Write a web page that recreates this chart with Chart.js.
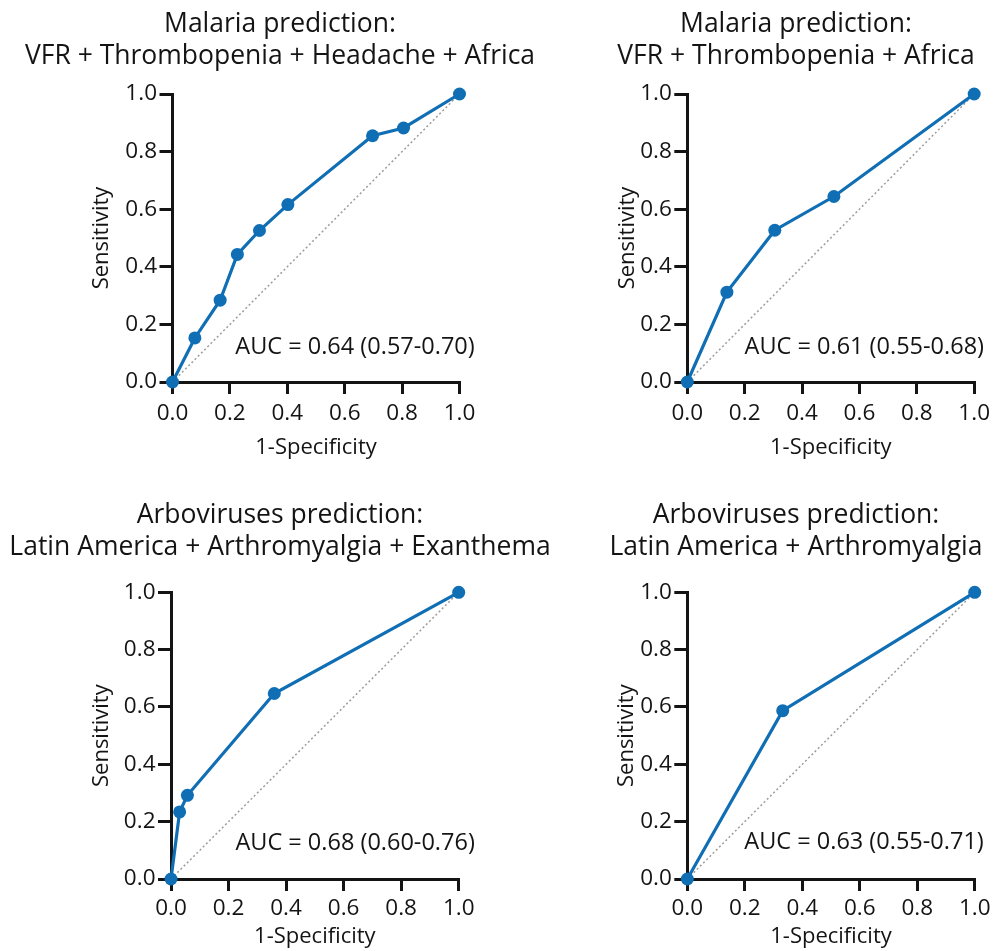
<!DOCTYPE html>
<html>
<head>
<meta charset="utf-8">
<script src="https://cdn.jsdelivr.net/npm/chart.js@4.4.1/dist/chart.umd.min.js"></script>
<style>
  body { margin: 0; background: #fff; }
  #wrap { position: relative; width: 996px; height: 951px; overflow: hidden; }
  canvas { position: absolute; }
</style>
</head>
<body>
<div id="wrap">
  <canvas id="c1"></canvas>
  <canvas id="c2"></canvas>
  <canvas id="c3"></canvas>
  <canvas id="c4"></canvas>
</div>
<script>
// ROC points (1-specificity, sensitivity)
var malariaFourX = [0, 0.078, 0.166, 0.226, 0.303, 0.402, 0.697, 0.805, 1];
var malariaFourY = [0, 0.153, 0.284, 0.443, 0.526, 0.616, 0.855, 0.882, 1];
var malariaThreeX = [0, 0.138, 0.305, 0.511, 1];
var malariaThreeY = [0, 0.312, 0.527, 0.644, 1];
var arboThreeX = [0, 0.030, 0.057, 0.359, 1];
var arboThreeY = [0, 0.234, 0.292, 0.647, 1];
var arboTwoX = [0, 0.332, 1];
var arboTwoY = [0, 0.587, 1];

var chanceX = [0, 1];
var chanceY = [0, 1];
var tickValues = [0, 0.2, 0.4, 0.6, 0.8, 1.0];

var panelTitles = [
    ["Malaria prediction:", "VFR + Thrombopenia + Headache + Africa"],
    ["Malaria prediction:", "VFR + Thrombopenia + Africa"],
    ["Arboviruses prediction:", "Latin America + Arthromyalgia + Exanthema"],
    ["Arboviruses prediction:", "Latin America + Arthromyalgia"]
];
var aucLabels = [
    "AUC = 0.64 (0.57-0.70)",
    "AUC = 0.61 (0.55-0.68)",
    "AUC = 0.68 (0.60-0.76)",
    "AUC = 0.63 (0.55-0.71)"
];

var BLUE = "#106eb4";
var INK = "#141414";
var FONT = "'Open Sans', sans-serif";

function toPoints(xs, ys) {
    return xs.map(function (v, i) { return { x: v, y: ys[i] }; });
}

// writes the AUC text at a place given in data units
var aucPlugin = {
    id: "aucText",
    afterDatasetsDraw: function (chart, args, opts) {
        var ctx = chart.ctx;
        ctx.save();
        ctx.font = "23.5px " + FONT;
        ctx.fillStyle = INK;
        ctx.textAlign = "center";
        ctx.textBaseline = "middle";
        ctx.fillText(opts.text, chart.scales.x.getPixelForValue(opts.x), chart.scales.y.getPixelForValue(opts.y));
        ctx.restore();
    }
};

function makePanel(id, xs, ys, idx, p) {
    var canvas = document.getElementById(id);
    canvas.width = p.w;
    canvas.height = p.h;
    canvas.style.left = p.left + "px";
    canvas.style.top = p.top + "px";

    return new Chart(canvas.getContext("2d"), {
        type: "scatter",
        data: {
            datasets: [{
                data: toPoints(xs, ys),
                showLine: true,
                borderColor: BLUE,
                backgroundColor: BLUE,
                borderWidth: 3.2,
                pointRadius: 6.5,
                pointBorderWidth: 0,
                clip: false
            }, {
                data: toPoints(chanceX, chanceY),
                showLine: true,
                borderColor: "#9c9c9c",
                borderWidth: 1.5,
                borderDash: [2, 2.5],
                pointRadius: 0
            }]
        },
        options: {
            responsive: false,
            animation: false,
            layout: { padding: 0 },
            plugins: {
                legend: { display: false },
                tooltip: { enabled: false },
                title: {
                    display: true,
                    text: panelTitles[idx],
                    color: INK,
                    font: { family: FONT, size: 26.5, weight: "normal", lineHeight: 31.5 / 26.5 },
                    padding: { top: p.titleTop, bottom: p.titleBottom }
                },
                aucText: { text: aucLabels[idx], x: p.aucX, y: p.aucY }
            },
            scales: {
                x: {
                    type: "linear",
                    min: 0,
                    max: 1,
                    afterBuildTicks: function (s) { s.ticks = tickValues.map(function (v) { return { value: v }; }); },
                    afterFit: function (s) { s.height = p.xHeight; },
                    border: { display: true, color: INK, width: 3 },
                    grid: { drawOnChartArea: false, drawTicks: true, tickLength: 12, lineWidth: 3, color: INK },
                    ticks: {
                        color: INK, padding: p.xTickPad, maxRotation: 0,
                        font: { family: FONT, size: 22.5 },
                        callback: function (v) { return Number(v).toFixed(1); }
                    },
                    title: {
                        display: true, text: "1-Specificity", color: INK,
                        font: { family: FONT, size: 22 },
                        padding: { top: 0, bottom: p.xTitlePad }
                    }
                },
                y: {
                    type: "linear",
                    min: 0,
                    max: 1,
                    afterBuildTicks: function (s) { s.ticks = tickValues.map(function (v) { return { value: v }; }); },
                    afterFit: function (s) { s.width = p.yWidth; },
                    border: { display: true, color: INK, width: 3 },
                    grid: { drawOnChartArea: false, drawTicks: true, tickLength: 13, lineWidth: 3, color: INK },
                    ticks: {
                        color: INK, padding: 2.5,
                        font: { family: FONT, size: 22.5 },
                        callback: function (v) { return Number(v).toFixed(1); }
                    },
                    title: {
                        display: true, text: "Sensitivity", color: INK,
                        font: { family: FONT, size: 22 },
                        padding: { top: p.yTitlePad, bottom: 0 }
                    }
                },
                // empty axis on the right, only keeps the plot in place under a centred title
                pad: {
                    type: "linear",
                    position: "right",
                    display: true,
                    afterFit: function (s) { s.width = p.padRight; },
                    border: { display: false },
                    grid: { display: false },
                    ticks: { display: false }
                }
            }
        },
        plugins: [aucPlugin]
    });
}

function drawAll() {
    makePanel("c1", malariaFourX, malariaFourY, 0, {
        left: 0, top: 0, w: 560, h: 475, yWidth: 172.5, padRight: 100.5,
        titleTop: 9, titleBottom: 22, xHeight: 93, xTickPad: 6, xTitlePad: 14.5, yTitlePad: 88.5,
        aucX: 0.636, aucY: 0.119
    });
    makePanel("c2", malariaThreeX, malariaThreeY, 1, {
        left: 596, top: 0, w: 400, h: 475, yWidth: 91.3, padRight: 21,
        titleTop: 9, titleBottom: 22, xHeight: 93, xTickPad: 6, xTitlePad: 14.5, yTitlePad: 18.8,
        aucX: 0.617, aucY: 0.119
    });
    makePanel("c3", arboThreeX, arboThreeY, 2, {
        left: 0, top: 475, w: 560, h: 476, yWidth: 171, padRight: 101.3,
        titleTop: 24.75, titleBottom: 29.55, xHeight: 72, xTickPad: 3.6, xTitlePad: 0.8, yTitlePad: 88.8,
        aucX: 0.64, aucY: 0.126
    });
    makePanel("c4", arboTwoX, arboTwoY, 3, {
        left: 596, top: 475, w: 400, h: 476, yWidth: 91.3, padRight: 21.3,
        titleTop: 24.75, titleBottom: 29.55, xHeight: 72, xTickPad: 3.6, xTitlePad: 0.8, yTitlePad: 17.8,
        aucX: 0.615, aucY: 0.129
    });
}

Promise.all([
    document.fonts.load("21px 'Open Sans'"),
    document.fonts.load("26.5px 'Open Sans'")
]).then(drawAll, drawAll);
</script>
</body>
</html>
